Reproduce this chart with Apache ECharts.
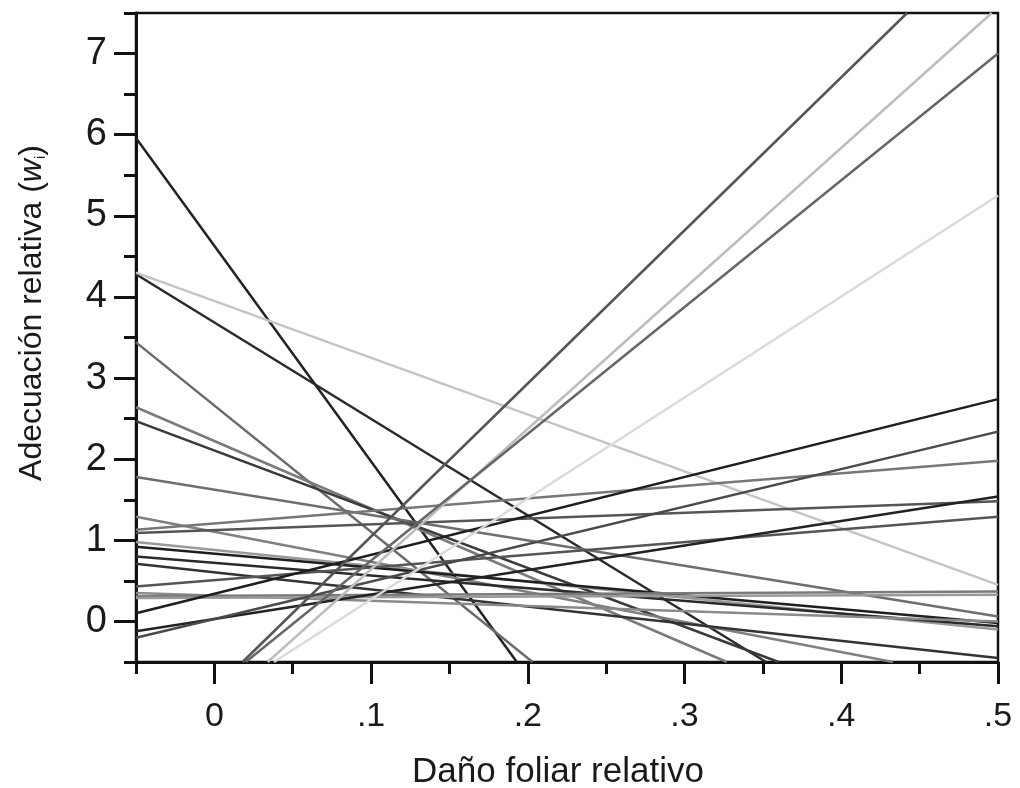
<!DOCTYPE html>
<html>
<head>
<meta charset="utf-8">
<script src="https://cdn.jsdelivr.net/npm/echarts@6/dist/echarts.min.js"></script>
<style>
  html, body { margin: 0; padding: 0; background: #fff; }
  #chart { width: 1020px; height: 788px; }
</style>
</head>
<body>
<div id="chart"></div>
<script>
// tick labels
const xTicks = [0, 0.1, 0.2, 0.3, 0.4, 0.5];
const xMinorTicks = [-0.05, 0.05, 0.15, 0.25, 0.35, 0.45];
const yTicks = [0, 1, 2, 3, 4, 5, 6, 7];
const yMinorTicks = [-0.5, 0.5, 1.5, 2.5, 3.5, 4.5, 5.5, 6.5, 7.5];

// each line: [damage, fitness] points
const steepFalling = [
  [[-0.05, 5.96], [0.193, -0.5]],
  [[-0.05, 4.28], [0.352, -0.5]],
  [[-0.05, 4.30], [0.5, 0.45]],
  [[-0.05, 3.44], [0.203, -0.5]],
  [[-0.05, 2.64], [0.327, -0.5]],
  [[-0.05, 2.47], [0.36, -0.5]],
  [[-0.05, 1.78], [0.5, 0.06]],
  [[-0.05, 1.29], [0.433, -0.5]]
];
const gentleFalling = [
  [[-0.05, 0.98], [0.5, -0.10]],
  [[-0.05, 0.92], [0.5, -0.02]],
  [[-0.05, 0.80], [0.5, -0.06]],
  [[-0.05, 0.71], [0.5, -0.45]],
  [[-0.05, 0.35], [0.5, 0.00]]
];
const gentleRising = [
  [[-0.05, 1.13], [0.5, 1.98]],
  [[-0.05, 1.09], [0.5, 1.48]],
  [[-0.05, 0.43], [0.5, 1.29]],
  [[-0.05, 0.31], [0.5, 0.37]],
  [[-0.05, 0.29], [0.5, 0.33]],
  [[-0.05, 0.10], [0.5, 2.74]],
  [[-0.05, -0.12], [0.5, 1.54]],
  [[-0.05, -0.20], [0.5, 2.34]]
];
const steepRising = [
  [[0.018, -0.5], [0.442, 7.5]],
  [[0.034, -0.5], [0.496, 7.5]],
  [[0.020, -0.5], [0.5, 7.0]],
  [[0.038, -0.5], [0.5, 5.25]]
];

// grey shade of each line, same order as above
const steepFallingShades = ['#222', '#2a2a2a', '#c4c4c4', '#6a6a6a', '#7a7a7a', '#3a3a3a', '#6e6e6e', '#808080'];
const gentleFallingShades = ['#9a9a9a', '#1e1e1e', '#2a2a2a', '#333', '#8a8a8a'];
const gentleRisingShades = ['#777', '#555', '#555', '#7a7a7a', '#999', '#1e1e1e', '#222', '#4a4a4a'];
const steepRisingShades = ['#555', '#bdbdbd', '#666', '#dadada'];

const font = "'Liberation Sans', Arial, sans-serif";
const ink = '#111';

function toSeries(lines, shades) {
  return lines.map((pts, i) => ({
    type: 'line',
    data: pts,
    xAxisIndex: 0,
    yAxisIndex: 0,
    symbol: 'none',
    silent: true,
    lineStyle: { color: shades[i], width: 2.5 }
  }));
}

const series = [].concat(
  toSeries(steepFalling, steepFallingShades),
  toSeries(gentleFalling, gentleFallingShades),
  toSeries(gentleRising, gentleRisingShades),
  toSeries(steepRising, steepRisingShades)
);

const chart = echarts.init(document.getElementById('chart'));
chart.setOption({
  animation: false,
  grid: {
    left: 136, right: 22, top: 13, bottom: 126,
    containLabel: false, outerBoundsMode: 'none',
    show: true, borderColor: ink, borderWidth: 2.5
  },
  xAxis: [{
    type: 'value', min: -0.05, max: 0.5, position: 'bottom',
    name: 'Daño foliar relativo', nameLocation: 'middle', nameGap: 93,
    nameTextStyle: { fontSize: 35, fontFamily: font, color: '#1a1a1a', padding: [0, 18, 0, 0] },
    axisLine: { show: true, onZero: false, lineStyle: { color: ink, width: 3 } },
    axisTick: { show: true, customValues: xTicks, length: 22, lineStyle: { color: ink, width: 3 } },
    axisLabel: {
      customValues: xTicks, fontSize: 34, margin: 38, color: '#1a1a1a', fontFamily: font,
      formatter: v => v === 0 ? '0' : String(+v.toFixed(2)).replace('0.', '.')
    },
    splitLine: { show: false }
  }, {
    type: 'value', min: -0.05, max: 0.5, position: 'bottom',
    axisLine: { show: false, onZero: false },
    axisTick: { show: true, customValues: xMinorTicks, length: 12, lineStyle: { color: ink, width: 3 } },
    axisLabel: { show: false },
    splitLine: { show: false }
  }],
  yAxis: [{
    type: 'value', min: -0.5, max: 7.5, position: 'left',
    axisLine: { show: true, onZero: false, lineStyle: { color: ink, width: 3 } },
    axisTick: { show: true, customValues: yTicks, length: 22, lineStyle: { color: ink, width: 3 } },
    axisLabel: { customValues: yTicks, fontSize: 38, margin: 29, color: '#1a1a1a', fontFamily: font },
    splitLine: { show: false }
  }, {
    type: 'value', min: -0.5, max: 7.5, position: 'left',
    axisLine: { show: false, onZero: false },
    axisTick: { show: true, customValues: yMinorTicks, length: 12, lineStyle: { color: ink, width: 3 } },
    axisLabel: { show: false },
    splitLine: { show: false }
  }],
  graphic: [{
    type: 'text',
    x: 30, y: 313,
    rotation: Math.PI / 2,
    style: {
      text: '{n|Adecuación relativa (}{w|w}{s|i}{n|)}',
      align: 'center',
      verticalAlign: 'middle',
      fill: '#1a1a1a',
      rich: {
        n: { fontSize: 32, fontFamily: font, fill: '#1a1a1a', lineHeight: 36, verticalAlign: 'bottom' },
        w: { fontSize: 32, fontFamily: font, fontStyle: 'italic', fill: '#1a1a1a', lineHeight: 36, verticalAlign: 'bottom' },
        s: { fontSize: 15, fontFamily: font, fill: '#1a1a1a', lineHeight: 30, verticalAlign: 'bottom' }
      }
    }
  }],
  series: series
});
</script>
</body>
</html>
